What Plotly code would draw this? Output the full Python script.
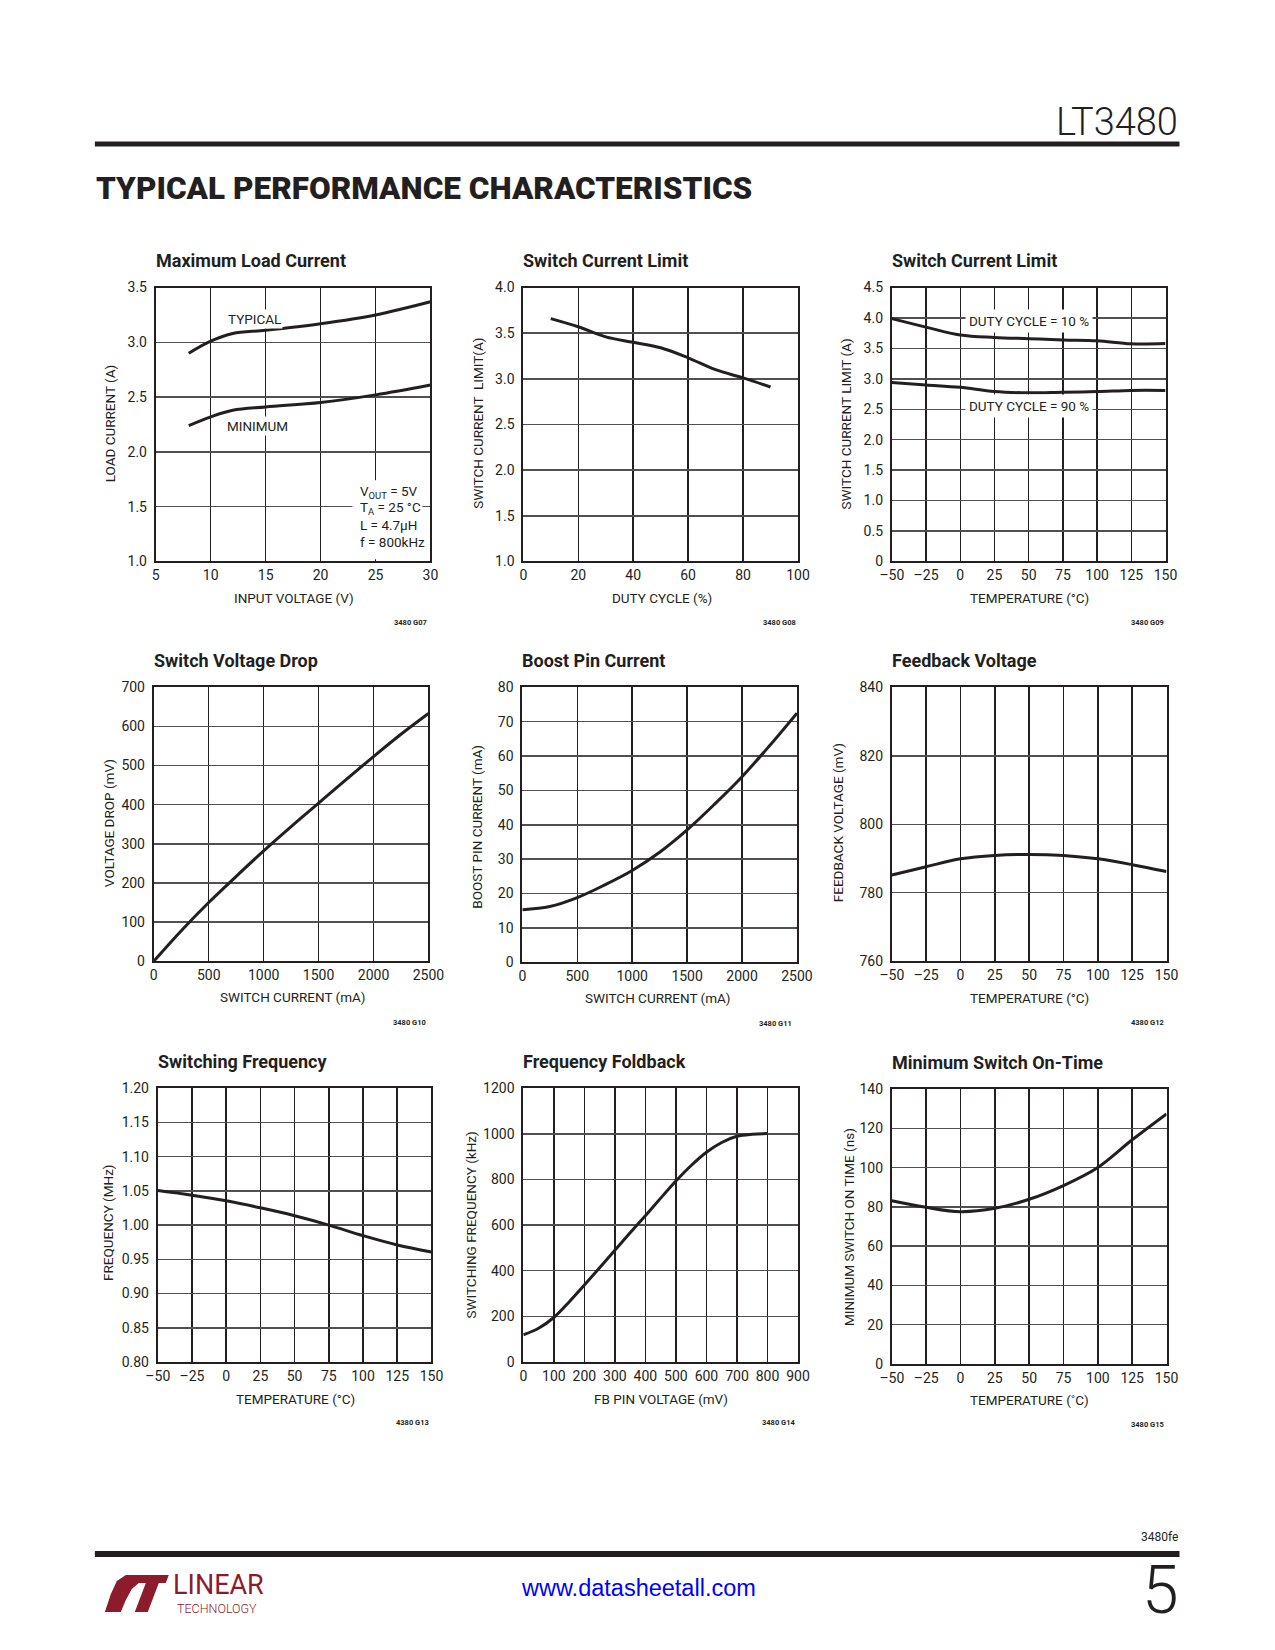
import plotly.graph_objects as go

# Figure plus the browser's default 8px body margin fills the 1275x1650 window.
PAGE_W, PAGE_H = 1275, 1650
MARG = 8
W, H = PAGE_W - 2 * MARG, PAGE_H - 2 * MARG
# measured placement of the captured page in the final picture (offset, scale)
AX, SX = 11.2, 0.979
AY, SY = 7.4, 0.9907
def px(x):
    return ((x - AX) / SX - MARG) / W
def py(y):
    return 1 - ((y - AY) / SY - MARG) / H

INK = "#231f20"
FONT = "Roboto, 'DejaVu Sans Condensed', sans-serif"

# ---------------- data ----------------
load_vin = [8, 10, 12, 15, 20, 25, 30]
load_typ = [2.90, 3.01, 3.08, 3.11, 3.17, 3.25, 3.37]
load_min = [2.24, 2.32, 2.38, 2.41, 2.45, 2.52, 2.61]

duty = [10, 20, 30, 40, 50, 60, 70, 80, 90]
ilim_duty = [3.66, 3.57, 3.46, 3.40, 3.34, 3.23, 3.10, 3.01, 2.91]

temp = [-50, -25, 0, 25, 50, 75, 100, 125, 150]
ilim_10 = [3.99, 3.85, 3.72, 3.68, 3.66, 3.64, 3.625, 3.575, 3.58]
ilim_90 = [2.94, 2.90, 2.86, 2.79, 2.77, 2.78, 2.79, 2.81, 2.81]

isw = [0, 250, 500, 750, 1000, 1250, 1500, 1750, 2000, 2250, 2500]
vdrop = [0, 78, 150, 217, 282, 344, 404, 464, 523, 580, 633]

iboost = [15.3, 16.2, 18.8, 22.5, 26.7, 32.0, 38.5, 46.0, 54.0, 63.0, 72.5]

vfb = [785.2, 787.6, 789.9, 790.9, 791.2, 790.9, 789.9, 788.2, 786.2]
fsw = [1.0505, 1.0437, 1.0354, 1.0252, 1.0136, 1.0, 0.9845, 0.971, 0.9607]

fbpin = [0, 50, 100, 150, 200, 250, 300, 350, 400, 450, 500, 550, 600, 650, 700, 750, 800]
ffold = [119, 148, 195, 263, 337, 413, 490, 566, 641, 718, 793, 861, 919, 962, 989, 998, 1001]

ton = [83.2, 79.8, 77.6, 79.3, 83.9, 90.9, 100.1, 114.2, 127.4]

# tick labels
temp_ticks = [-50, -25, 0, 25, 50, 75, 100, 125, 150]
temp_text = ["\u201350", "\u201325", "0", "25", "50", "75", "100", "125", "150"]
load_yticks = [1.0, 1.5, 2.0, 2.5, 3.0, 3.5]
load_ytext = ["1.0", "1.5", "2.0", "2.5", "3.0", "3.5"]
load_xticks = [5, 10, 15, 20, 25, 30]
duty_xticks = [0, 20, 40, 60, 80, 100]
ilim_yticks = [1.0, 1.5, 2.0, 2.5, 3.0, 3.5, 4.0]
ilim_ytext = ["1.0", "1.5", "2.0", "2.5", "3.0", "3.5", "4.0"]
ilimt_yticks = [0, 0.5, 1.0, 1.5, 2.0, 2.5, 3.0, 3.5, 4.0, 4.5]
ilimt_ytext = ["0", "0.5", "1.0", "1.5", "2.0", "2.5", "3.0", "3.5", "4.0", "4.5"]
isw_xticks = [0, 500, 1000, 1500, 2000, 2500]
vdrop_yticks = [0, 100, 200, 300, 400, 500, 600, 700]
boost_yticks = [0, 10, 20, 30, 40, 50, 60, 70, 80]
vfb_yticks = [760, 780, 800, 820, 840]
fsw_yticks = [0.80, 0.85, 0.90, 0.95, 1.00, 1.05, 1.10, 1.15, 1.20]
fsw_ytext = ["0.80", "0.85", "0.90", "0.95", "1.00", "1.05", "1.10", "1.15", "1.20"]
fb_xticks = [0, 100, 200, 300, 400, 500, 600, 700, 800, 900]
ffold_yticks = [0, 200, 400, 600, 800, 1000, 1200]
ton_yticks = [0, 20, 40, 60, 80, 100, 120, 140]

charts = [
    dict(title="Maximum Load Current", box=(155, 430, 287, 561), xr=(5, 30), xt=load_xticks, xtt=None,
         yr=(1.0, 3.5), yt=load_yticks, ytt=load_ytext, xlab="INPUT VOLTAGE (V)", ylab="LOAD CURRENT (A)",
         xlab_pos=(293, 598), ylab_pos=(110, 423), code="3480 G07", code_pos=(429, 622),
         series=[(load_vin, load_typ), (load_vin, load_min)]),
    dict(title="Switch Current Limit", box=(523, 798, 287, 561), xr=(0, 100), xt=duty_xticks, xtt=None,
         yr=(1.0, 4.0), yt=ilim_yticks, ytt=ilim_ytext, xlab="DUTY CYCLE (%)", ylab="SWITCH CURRENT  LIMIT(A)",
         xlab_pos=(662, 598), ylab_pos=(478, 423), code="3480 G08", code_pos=(798, 622),
         series=[(duty, ilim_duty)]),
    dict(title="Switch Current Limit", box=(892, 1166, 287, 561), xr=(-50, 150), xt=temp_ticks, xtt=temp_text,
         yr=(0, 4.5), yt=ilimt_yticks, ytt=ilimt_ytext, xlab="TEMPERATURE (\u00b0C)", ylab="SWITCH CURRENT LIMIT (A)",
         xlab_pos=(1030, 598), ylab_pos=(847, 423), code="3480 G09", code_pos=(1166, 622),
         series=[(temp, ilim_10), (temp, ilim_90)]),
    dict(title="Switch Voltage Drop", box=(153, 428, 687, 961), xr=(0, 2500), xt=isw_xticks, xtt=None,
         yr=(0, 700), yt=vdrop_yticks, ytt=None, xlab="SWITCH CURRENT (mA)", ylab="VOLTAGE DROP (mV)",
         xlab_pos=(292, 997), ylab_pos=(108, 823), code="3480 G10", code_pos=(428, 1022),
         series=[(isw, vdrop)]),
    dict(title="Boost Pin Current", box=(522, 797, 687, 962), xr=(0, 2500), xt=isw_xticks, xtt=None,
         yr=(0, 80), yt=boost_yticks, ytt=None, xlab="SWITCH CURRENT (mA)", ylab="BOOST PIN CURRENT (mA)",
         xlab_pos=(658, 998), ylab_pos=(477, 826), code="3480 G11", code_pos=(794, 1023),
         series=[(isw, iboost)]),
    dict(title="Feedback Voltage", box=(892, 1167, 687, 961), xr=(-50, 150), xt=temp_ticks, xtt=temp_text,
         yr=(760, 840), yt=vfb_yticks, ytt=None, xlab="TEMPERATURE (\u00b0C)", ylab="FEEDBACK VOLTAGE (mV)",
         xlab_pos=(1030, 998), ylab_pos=(838, 822), code="4380 G12", code_pos=(1166, 1022),
         series=[(temp, vfb)]),
    dict(title="Switching Frequency", box=(157, 431, 1088, 1362), xr=(-50, 150), xt=temp_ticks, xtt=temp_text,
         yr=(0.80, 1.20), yt=fsw_yticks, ytt=fsw_ytext, xlab="TEMPERATURE (\u00b0C)", ylab="FREQUENCY (MHz)",
         xlab_pos=(295, 1399), ylab_pos=(107, 1223), code="4380 G13", code_pos=(431, 1423),
         series=[(temp, fsw)]),
    dict(title="Frequency Foldback", box=(523, 798, 1088, 1362), xr=(0, 900), xt=fb_xticks, xtt=None,
         yr=(0, 1200), yt=ffold_yticks, ytt=None, xlab="FB PIN VOLTAGE (mV)", ylab="SWITCHING FREQUENCY (kHz)",
         xlab_pos=(661, 1399), ylab_pos=(471, 1225), code="3480 G14", code_pos=(797, 1423),
         series=[(fbpin, ffold)]),
    dict(title="Minimum Switch On-Time", box=(892, 1167, 1089, 1364), xr=(-50, 150), xt=temp_ticks, xtt=temp_text,
         yr=(0, 140), yt=ton_yticks, ytt=None, xlab="TEMPERATURE (\u02daC)", ylab="MINIMUM SWITCH ON TIME (ns)",
         xlab_pos=(1030, 1400), ylab_pos=(849, 1227), code="3480 G15", code_pos=(1166, 1425),
         series=[(temp, ton)]),
]

fig = go.Figure()
layout = dict(width=W, height=H, margin=dict(l=0, r=0, t=0, b=0, pad=0), paper_bgcolor="white",
              plot_bgcolor="white", showlegend=False)
annotations = []
shapes = []

TICKFONT = dict(family=FONT, size=14, color=INK)
for i, c in enumerate(charts, start=1):
    sfx = "" if i == 1 else str(i)
    l, r, t, b = c["box"]
    xa = dict(domain=[px(l), px(r)], range=list(c["xr"]), tickvals=c["xt"], anchor="y" + sfx,
              showgrid=True, gridcolor=INK, gridwidth=1.5, showline=True, linecolor=INK, linewidth=2,
              mirror=True, zeroline=False, ticks="", tickfont=TICKFONT, ticklabelstandoff=0, fixedrange=True)
    if c["xtt"] is not None:
        xa["ticktext"] = c["xtt"]
    ya = dict(domain=[py(b), py(t)], range=list(c["yr"]), tickvals=c["yt"], anchor="x" + sfx,
              showgrid=True, gridcolor="#505050", gridwidth=1.5, showline=True, linecolor=INK, linewidth=2,
              mirror=True, zeroline=False, ticks="", tickfont=TICKFONT, ticklabelstandoff=4, fixedrange=True)
    if c["ytt"] is not None:
        ya["ticktext"] = c["ytt"]
    layout["xaxis" + sfx] = xa
    layout["yaxis" + sfx] = ya
    for xs, ys in c["series"]:
        fig.add_trace(go.Scatter(x=xs, y=ys, mode="lines", xaxis="x" + sfx, yaxis="y" + sfx,
                                 line=dict(color=INK, width=3, shape="spline", smoothing=1.0),
                                 hoverinfo="skip"))
    annotations.append(dict(text=c["title"], x=px(l - 2), y=py(t - 27), xref="paper", yref="paper",
                            xanchor="left", yanchor="middle", showarrow=False,
                            font=dict(family=FONT, size=18, color=INK, weight=700)))
    annotations.append(dict(text=c["xlab"], x=px(c["xlab_pos"][0]), y=py(c["xlab_pos"][1]), xref="paper",
                            yref="paper", xanchor="center", yanchor="middle", showarrow=False,
                            font=dict(family=FONT, size=13.5, color=INK)))
    annotations.append(dict(text=c["ylab"], x=px(c["ylab_pos"][0]), y=py(c["ylab_pos"][1]), xref="paper",
                            yref="paper", xanchor="center", yanchor="middle", showarrow=False, textangle=-90,
                            font=dict(family=FONT, size=13.5, color=INK)))
    annotations.append(dict(text=c["code"], x=px(c["code_pos"][0]), y=py(c["code_pos"][1]), xref="paper",
                            yref="paper", xanchor="right", yanchor="middle", showarrow=False,
                            font=dict(family=FONT, size=7.5, color=INK, weight=700)))

# chart-internal labels
LBL = dict(family=FONT, size=13.5, color=INK)
annotations += [
    dict(text="TYPICAL", x=px(225), y=py(318), xref="paper", yref="paper", xanchor="left", yanchor="middle",
         showarrow=False, font=LBL, bgcolor="white", borderpad=1),
    dict(text="MINIMUM", x=px(224), y=py(426), xref="paper", yref="paper", xanchor="left", yanchor="middle",
         showarrow=False, font=LBL, bgcolor="white", borderpad=1),
    dict(text="DUTY CYCLE = 10 %", x=px(1029), y=py(320), xref="paper", yref="paper", xanchor="center",
         yanchor="middle", showarrow=False, font=LBL, bgcolor="white", borderpad=3),
    dict(text="DUTY CYCLE = 90 %", x=px(1029), y=py(406), xref="paper", yref="paper", xanchor="center",
         yanchor="middle", showarrow=False, font=LBL, bgcolor="white", borderpad=3),
]
# white backdrop behind the conditions block (covers grid, stays under curves)
shapes.append(dict(type="rect", xref="x", yref="y", x0=22.9, x1=29.27, y0=1.02, y1=1.74,
                   fillcolor="white", line=dict(width=0), layer="between"))
cond_lines = ["V<sub>OUT</sub> = 5V", "T<sub>A</sub> = 25 \u00b0C", "L = 4.7\u00b5H", "f = 800kHz"]
cond_y = [492, 508, 525, 542]
for txt, yy in zip(cond_lines, cond_y):
    annotations.append(dict(text=txt, x=px(357), y=py(yy), xref="paper", yref="paper",
                            xanchor="left", yanchor="middle", showarrow=False, font=LBL))

# page decorations
shapes.append(dict(type="rect", xref="paper", yref="paper", x0=px(94), x1=px(1180), y0=py(146), y1=py(141),
                   fillcolor=INK, line=dict(width=0)))
shapes.append(dict(type="rect", xref="paper", yref="paper", x0=px(94), x1=px(1180), y0=py(1557), y1=py(1551),
                   fillcolor=INK, line=dict(width=0)))

def ppath(pts):
    return "M " + " L ".join(f"{px(a):.5f},{py(b):.5f}" for a, b in pts) + " Z"

RED = "#8c1c2c"
shapes.append(dict(type="path", xref="paper", yref="paper", fillcolor=RED, line=dict(width=0),
                   path=ppath([(104, 1612), (120, 1612), (125, 1600), (131, 1589), (138, 1583), (142, 1575),
                               (125, 1575), (116, 1581), (110, 1594)])))
shapes.append(dict(type="path", xref="paper", yref="paper", fillcolor=RED, line=dict(width=0),
                   path=ppath([(140, 1575), (168, 1575), (165, 1583), (158, 1583), (147, 1612), (134, 1612),
                               (145, 1583), (137, 1583)])))

annotations += [
    dict(text="LT3480", x=px(1181), y=py(121), xref="paper", yref="paper", xanchor="right", yanchor="middle",
         showarrow=False, font=dict(family=FONT, size=38, color=INK, weight=300)),
    dict(text="TYPICAL PERFORMANCE CHARACTERISTICS", x=px(93), y=py(188), xref="paper", yref="paper",
         xanchor="left", yanchor="middle", showarrow=False,
         font=dict(family=FONT, size=31.5, color=INK, weight=900)),
    dict(text="3480fe", x=px(1181), y=py(1537), xref="paper", yref="paper", xanchor="right", yanchor="middle",
         showarrow=False, font=dict(family=FONT, size=12, color=INK)),
    dict(text="www.datasheetall.com", x=px(638), y=py(1588), xref="paper", yref="paper", xanchor="center",
         yanchor="middle", showarrow=False,
         font=dict(family="'Liberation Sans', Arial, sans-serif", size=23.5, color="#0000ff")),
    dict(text="5", x=px(1182), y=py(1591), xref="paper", yref="paper", xanchor="right", yanchor="middle",
         showarrow=False, font=dict(family=FONT, size=66, color=INK, weight=300)),
    dict(text="LINEAR", x=px(170), y=py(1585), xref="paper", yref="paper", xanchor="left", yanchor="middle",
         showarrow=False, font=dict(family=FONT, size=27, color=RED, weight=400)),
    dict(text="TECHNOLOGY", x=px(174), y=py(1609), xref="paper", yref="paper", xanchor="left", yanchor="middle",
         showarrow=False, font=dict(family=FONT, size=12.5, color=RED, weight=300)),
]

layout["annotations"] = annotations
layout["shapes"] = shapes
fig.update_layout(**layout)

fig.write_html("out.html", config={"displayModeBar": False, "staticPlot": True})
